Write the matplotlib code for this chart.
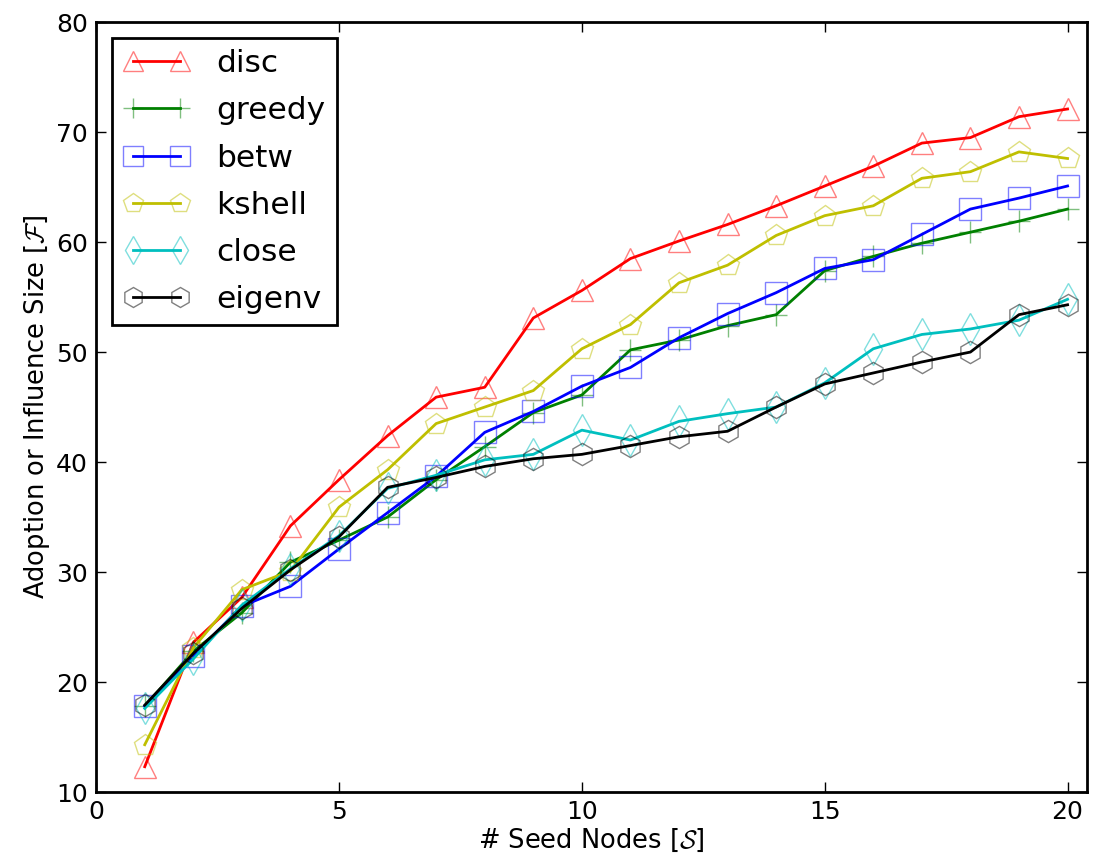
import matplotlib
matplotlib.use("Agg")
import matplotlib.pyplot as plt
from matplotlib.colors import to_rgba

seeds = list(range(1, 21))

disc = [12.3, 23.6, 27.7, 34.2, 38.4, 42.4, 45.9, 46.8, 53.1, 55.6,
        58.5, 60.1, 61.6, 63.3, 65.1, 66.9, 69.0, 69.5, 71.4, 72.1]
greedy = [17.8, 22.8, 26.3, 30.9, 32.9, 35.0, 38.4, 41.4, 44.5, 46.1,
          50.2, 51.1, 52.4, 53.4, 57.4, 58.7, 59.9, 60.9, 61.9, 63.0]
betw = [17.8, 22.4, 26.9, 28.7, 32.1, 35.4, 38.7, 42.7, 44.6, 46.9,
        48.6, 51.3, 53.5, 55.4, 57.6, 58.4, 60.7, 63.0, 64.0, 65.1]
kshell = [14.3, 23.1, 28.4, 30.1, 35.9, 39.3, 43.5, 45.0, 46.5, 50.3,
          52.5, 56.3, 57.9, 60.6, 62.4, 63.3, 65.8, 66.4, 68.2, 67.6]
close = [17.6, 22.1, 27.0, 30.3, 33.3, 37.6, 38.8, 40.2, 40.7, 42.9,
         42.0, 43.7, 44.4, 45.0, 47.2, 50.3, 51.6, 52.1, 52.9, 54.8]
eigenv = [17.9, 22.6, 26.7, 30.2, 33.2, 37.7, 38.6, 39.6, 40.3, 40.7,
          41.5, 42.3, 42.8, 45.0, 47.1, 48.1, 49.1, 50.0, 53.4, 54.3]

series = [
    ("disc", disc, (1.0, 0.0, 0.0), "^"),
    ("greedy", greedy, (0.0, 0.5, 0.0), "+"),
    ("betw", betw, (0.0, 0.0, 1.0), "s"),
    ("kshell", kshell, (0.75, 0.75, 0.0), "p"),
    ("close", close, (0.0, 0.75, 0.75), "d"),
    ("eigenv", eigenv, (0.0, 0.0, 0.0), "h"),
]

plt.rcParams["mathtext.fontset"] = "cm"

fig = plt.figure(figsize=(10.93, 8.67), dpi=100)
ax = fig.add_axes([0.088, 0.0865, 0.9065, 0.888])

for name, vals, col, mk in series:
    ax.plot(seeds, vals, color=col, lw=2, marker=mk, markersize=16,
            markerfacecolor="none", markeredgecolor=to_rgba(col, 0.5),
            markeredgewidth=1.0, label=name)

ax.set_xlim(0, 20.4)
ax.set_ylim(10, 80)
ax.set_xticks([0, 5, 10, 15, 20])
ax.set_yticks(range(10, 81, 10))
ax.tick_params(direction="in", top=True, right=True, length=7, width=1,
               labelsize=18, pad=6)
for sp in ax.spines.values():
    sp.set_linewidth(2)

ax.set_xlabel(r"# Seed Nodes [$\mathcal{S}$]", fontsize=18.5, labelpad=2)
ax.set_ylabel(r"Adoption or Influence Size [$\mathcal{F}$]", fontsize=18.5, labelpad=3)

leg = ax.legend(loc="upper left", numpoints=2, fontsize=22.5, fancybox=False,
                framealpha=1, edgecolor="black", handlelength=2.1,
                handletextpad=0.86, labelspacing=0.58, borderpad=0.37,
                borderaxespad=0.5, markerscale=0.9)
leg.get_frame().set_linewidth(2)

fig.savefig("out.png", dpi=100, facecolor="white")
